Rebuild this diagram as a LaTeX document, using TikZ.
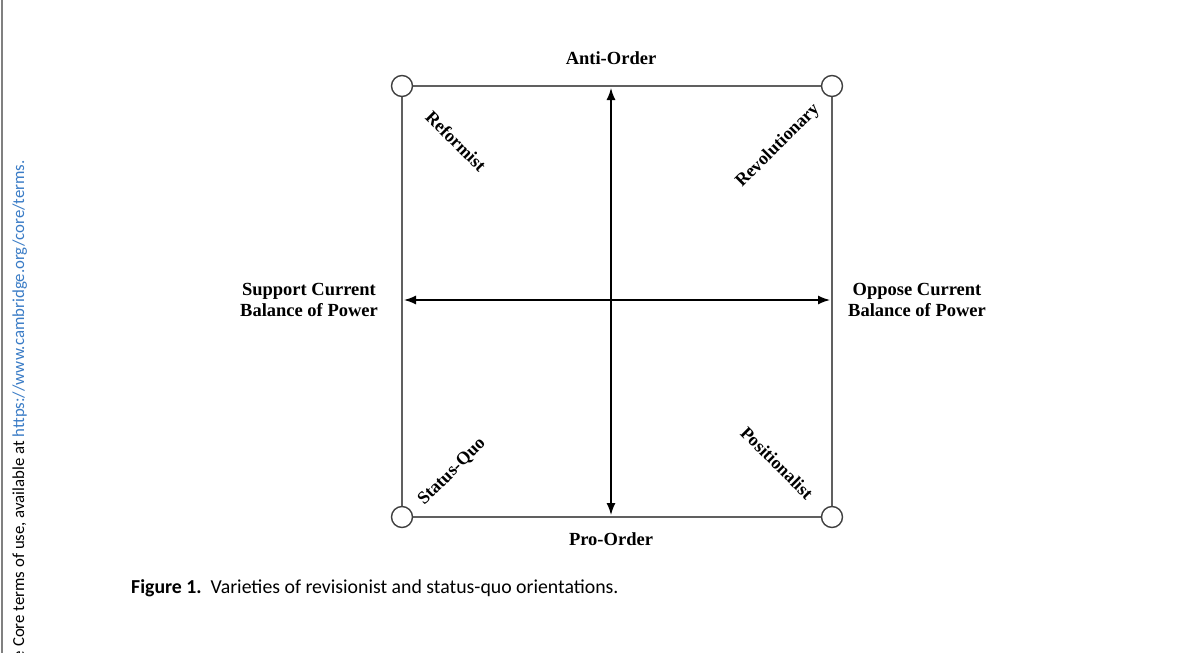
\documentclass[tikz,border=0pt]{standalone}
\usepackage{fontspec}
\setsansfont{Carlito}
\newfontfamily\labelfont{Liberation Serif}
\usepackage{xcolor}
\usepackage{tikz}
\usetikzlibrary{arrows.meta,positioning}
\definecolor{framegray}{HTML}{606060}
\definecolor{ringgray}{HTML}{404040}
\definecolor{linkblue}{HTML}{3A7CC6}
\tikzset{
  ring/.style={circle,draw=ringgray,line width=1.4pt,fill=white,minimum size=21pt,inner sep=0pt},
  box/.style={draw=framegray,line width=1.6pt},
  axis/.style={{Latex[length=12pt,width=9pt]}-{Latex[length=12pt,width=9pt]},line width=1.4pt,shorten <=2pt,shorten >=2pt},
  pole/.style={font=\labelfont\bfseries\fontsize{18.5}{21}\selectfont,align=center,inner sep=0pt},
  kind/.style={font=\labelfont\bfseries\fontsize{18}{20}\selectfont,inner sep=0pt},
  caption/.style={font=\sffamily\fontsize{19.8}{22}\selectfont,inner sep=0pt},
  margin/.style={font=\sffamily\fontsize{16.8}{20}\selectfont,inner sep=0pt},
}

\begin{document}
\begin{tikzpicture}[x=1pt,y=-1pt]
  \useasboundingbox[fill=white] (0,0) rectangle (1200,653);
  \draw[gray,line width=2pt] (1.5,0) -- (1.5,653);
  \node[margin,rotate=90,anchor=base east] (terms) at (24,160)
    {e Core terms of use, available at \textcolor{linkblue}{https://www.cambridge.org/core/terms.}};
  % square and its corners
  \coordinate (tl) at (402,86);
  \coordinate (tr) at (832,86);
  \coordinate (br) at (832,517);
  \coordinate (bl) at (402,517);
  \draw[box] (tl) -- (tr) -- (br) -- (bl) -- cycle;
  \foreach \c in {tl,tr,br,bl} \node[ring] (o\c) at (\c) {};
  % axes
  \coordinate (top) at (611,86);
  \coordinate (bot) at (611,517);
  \coordinate (lft) at (402,300);
  \coordinate (rgt) at (832,300);
  \draw[axis] (top) -- (bot);
  \draw[axis] (lft) -- (rgt);
  % labels
  \node[pole] (anti) at (611,58) {Anti-Order};
  \node[pole] (pro) at (611,539) {Pro-Order};
  \node[pole] (support) at (309,300) {Support Current\\Balance of Power};
  \node[pole] (oppose) at (917,300) {Oppose Current\\Balance of Power};
  \node[kind,rotate=-45] (reform) at (456,141) {Reformist};
  \node[kind,rotate=45] (revol) at (778,146) {Revolutionary};
  \node[kind,rotate=45] (squo) at (452,472) {Status-Quo};
  \node[kind,rotate=-45] (posit) at (777,463) {Positionalist};
  \node[caption,anchor=west] (fig) at (131,588)
    {\textbf{Figure 1.}\hspace{0.15em} Varieties of revisionist and status-quo orientations.};
\end{tikzpicture}
\end{document}
